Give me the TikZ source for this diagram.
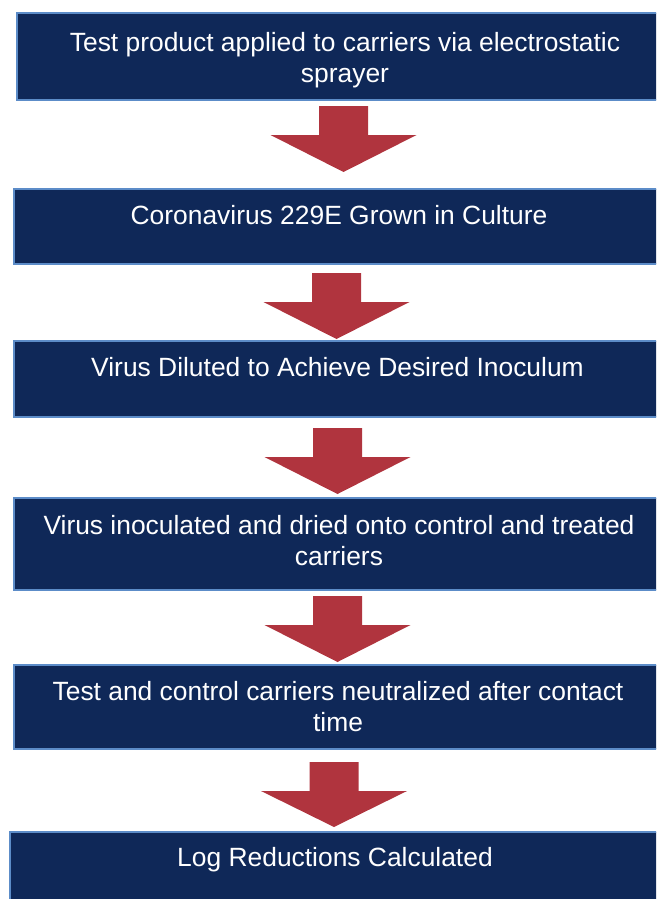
\documentclass[tikz,border=0pt]{standalone}
\usepackage{fontspec}
\setmainfont{Liberation Sans}
\definecolor{boxfill}{RGB}{15,40,88}
\definecolor{boxline}{RGB}{92,140,200}
\definecolor{arrowred}{RGB}{176,52,62}
\tikzset{
  flowbox/.style={draw=boxline, line width=1.8pt, fill=boxfill, inner sep=0pt, anchor=north west},
  flowtext/.style={text=white, font=\fontsize{26.4}{30.5}\selectfont, align=center, anchor=base, inner sep=0pt}
}
\newcommand{\blockarrow}[5]{% center x, stem top y, head base y, tip y, name
  \fill[arrowred] (#1-24.5,#2) -- (#1+24.5,#2) -- (#1+24.5,#3) -- (#1+73,#3) -- (#1,#4) -- (#1-73,#3) -- (#1-24.5,#3) -- (#1-24.5,#2) -- cycle;
  \coordinate (#5) at (#1,#4);
}
\begin{document}
\begin{tikzpicture}[x=1pt,y=-1pt]
\useasboundingbox (0,0) rectangle (656,899);
\clip (0,0) rectangle (656,899);
\node[flowbox, minimum width=658pt, minimum height=87pt] (b1) at (16,12) {};
\node[flowbox, minimum width=652pt, minimum height=75pt] (b2) at (13,188) {};
\node[flowbox, minimum width=649pt, minimum height=76pt] (b3) at (13,340) {};
\node[flowbox, minimum width=652pt, minimum height=92pt] (b4) at (13,497) {};
\node[flowbox, minimum width=651pt, minimum height=84pt] (b5) at (13,664) {};
\node[flowbox, minimum width=652pt, minimum height=90pt] (b6) at (9,831) {};
\node[flowtext] (t1) at (345,82) {Test product applied to carriers via electrostatic\\sprayer};
\node[flowtext] (t2) at (339,224.5) {Coronavirus 229E Grown in Culture};
\node[flowtext] (t3) at (337.5,376.5) {Virus Diluted to Achieve Desired Inoculum};
\node[flowtext] (t4) at (339,565) {Virus inoculated and dried onto control and treated\\carriers};
\node[flowtext] (t5) at (338,731) {Test and control carriers neutralized after contact\\time};
\node[flowtext] (t6) at (335,866.5) {Log Reductions Calculated};
\blockarrow{343.5}{106}{135}{172}{a1}
\blockarrow{336.5}{273}{302}{339}{a2}
\blockarrow{337.5}{428}{457}{494}{a3}
\blockarrow{337.5}{596}{625}{662}{a4}
\blockarrow{334}{762}{791}{827}{a5}
\end{tikzpicture}
\end{document}
